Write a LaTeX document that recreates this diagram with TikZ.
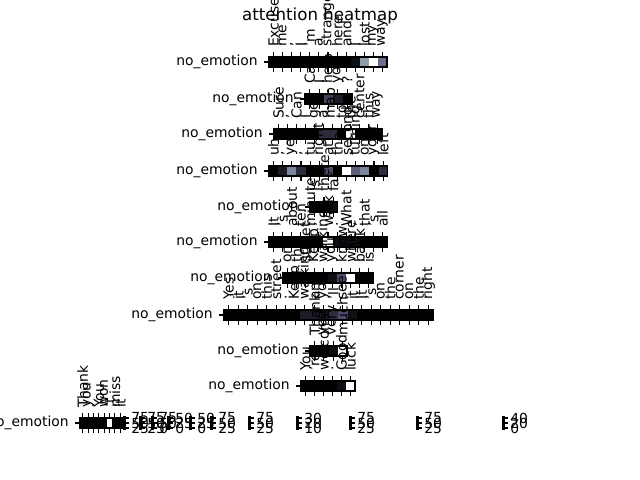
\documentclass[tikz,border=0pt]{standalone}
\usepackage{fontspec}
\setmainfont{DejaVu Sans}
\definecolor{b0}{HTML}{000000}
\definecolor{b1}{HTML}{0E0E14}
\definecolor{b2}{HTML}{1C1C26}
\definecolor{b3}{HTML}{2C2C3C}
\definecolor{b4}{HTML}{404058}
\definecolor{b5}{HTML}{4C4C6A}
\definecolor{b6}{HTML}{5C5E7C}
\definecolor{b7}{HTML}{6A6D8C}
\definecolor{b8}{HTML}{7A869C}
\definecolor{b9}{HTML}{8C9CAA}
\definecolor{bw}{HTML}{FFFFFF}
\tikzset{
  tk/.style={line width=0.8pt, black},
  spine/.style={line width=0.8pt, draw=black},
  xl/.style={rotate=90, anchor=west, inner sep=0pt, font=\fontsize{10}{12}\selectfont},
  yl/.style={anchor=east, inner sep=0pt, font=\fontsize{10}{12}\selectfont},
  cbl/.style={anchor=west, inner sep=0pt, font=\fontsize{10}{12}\selectfont},
}
\newcommand\hmrow[6]{%
  \foreach \cc/\ll [count=\i] in {#6} {
    \fill[\cc] ({#2+(\i-1)*#4},#3) rectangle ({#2+\i*#4},{#3+10});
    \draw[tk] ({#2+(\i-0.5)*#4},#3) -- ++(0,-4.9);
    \draw[tk] ({#2+(\i-0.5)*#4},{#3+10}) -- ++(0,4.9);
    \node[xl] (#1c\i) at ({#2+(\i-0.5)*#4},{#3-9.8}) {\ll};
  }
  \draw[spine] (#2,#3) rectangle ({#2+#5*#4},{#3+10});
  \draw[tk] (#2,{#3+5}) -- ++(-4.9,0);
  \node[yl] (#1y) at ({#2-11},{#3+5}) {no\_emotion};
}
\newcommand\cbar[5]{%
  \draw[spine] (#2,417) rectangle ({#2+1.5},429);
  \foreach \yy in {418,423,428} {
    \draw[tk] ({#2+1.5},\yy) -- ++(3.5,0);
  }
  \node[cbl] (#1a) at ({#2+7},418) {#3};
  \node[cbl] (#1b) at ({#2+7},423) {#4};
  \node[cbl] (#1c) at ({#2+7},428) {#5};
}
\begin{document}
\begin{tikzpicture}[x=0.72pt,y=-0.72pt]
\useasboundingbox (0,0) rectangle (640,480);
\fill[white] (0,0) rectangle (640,480);
\node[font=\fontsize{12}{14}\selectfont, inner sep=0pt] (title) at (320,16) {attention heatmap};

\hmrow{ra}{269}{57}{9.08}{13}{b0/Excuse, b0/me, b0/{,}, b0/I, b0/'m, b0/a, b0/stranger, b0/here, b0/and, b1/I, b9/lost, bw/my, b7/way}
\hmrow{rb}{305}{94}{9.4}{5}{b0/Can, b0/I, b4/help, b2/you, b0/?}
\hmrow{rc}{274}{129}{9}{12}{b0/Sure, b0/{,}, b0/Can, b0/I, b0/get, b3/a, b3/map, b0/to, bw/the, b0/center, b0/this, b0/way}
\hmrow{rd}{269}{166}{9.13}{13}{b0/uh, b2/{,}, b8/yes, b3/{,}, b0/turn, b0/right, b5/at, b0/the, bw/second, b6/turning, b8/on, b0/your, b3/left}
\hmrow{re}{310}{202}{9.3}{3}{b0/Is, b0/there, b1/far}
\hmrow{rf}{269}{237}{9.08}{13}{b0/It, b0/'s, b0/about, b0/ten, b0/minutes, b0/', bw/walk, b1/., b1/What, b1/{,}, b0/that, b0/'s, b0/all}
\hmrow{rg}{283}{273}{9}{10}{b0/on, b0/this, b0/street, b0/Keep, b0/walking, b1/you, b5/know, bw/where, b0/bank, b0/is}
\hmrow{rh}{224}{310}{9.5}{22}{b0/Yes, b0/it, b0/'s, b0/on, b0/this, b0/street, b0/., b0/Keep, b2/walking, b2/and, b2/you, b3/'ll, b5/see, b1/it, b0/It, b0/'s, b0/on, b0/the, b0/corner, b0/on, b0/the, b0/right}
\hmrow{ri}{310}{346}{9.25}{4}{b0/Thank, b0/you, b1/very, bw/much}
\hmrow{rj}{301}{381}{9}{6}{b0/You, b0/'re, b0/welcome, b0/., b1/Good, bw/luck}
\hmrow{rk}{80}{418}{5.375}{8}{b0/Thank, b0/you, b0/., b0/You, b0/won, bw/'t, b0/miss, b0/it}

\cbar{ca}{124}{75}{50}{25}
\cbar{cb}{140}{75}{50}{25}
\cbar{cc}{152}{75}{50}{0}
\cbar{cd}{168}{50}{25}{0}
\cbar{ce}{190}{50}{25}{0}
\cbar{cf}{211}{75}{50}{25}
\cbar{cg}{249}{75}{50}{25}
\cbar{ch}{297}{30}{20}{10}
\cbar{ci}{350}{75}{50}{25}
\cbar{cj}{417}{75}{50}{25}
\cbar{ck}{503}{40}{20}{0}
\end{tikzpicture}
\end{document}
